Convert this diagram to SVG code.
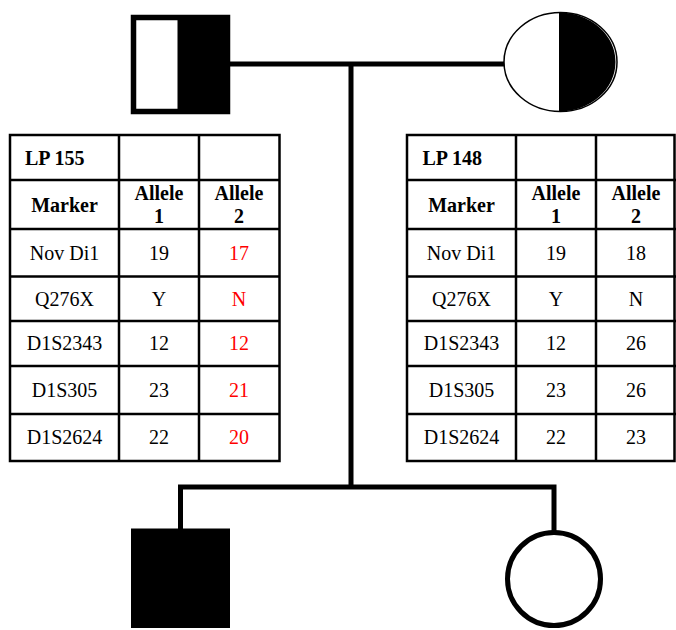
<svg xmlns="http://www.w3.org/2000/svg" width="676" height="630" viewBox="0 0 676 630">
<style>
.ln{stroke:#000;stroke-width:5;fill:none}
.tb{stroke:#000;stroke-width:2.5;fill:none}
.t text{font-family:'Liberation Serif','Times New Roman',Times,'DejaVu Serif',serif;font-size:20px;fill:#000;text-anchor:middle}
.t .b{font-weight:bold}
.t .l{text-anchor:start}
.t .r{fill:#ff0000}
</style>
<rect width="676" height="630" fill="#fff"/>
<g id="connectors">
<line class="ln" x1="230" y1="64" x2="505" y2="64"/>
<line class="ln" x1="351" y1="64" x2="351" y2="487"/>
<polyline class="ln" points="180.5,529 180.5,487 554,487 554,532"/>
</g>
<g id="father">
<rect x="133.5" y="17.5" width="94" height="94" fill="#fff" stroke="#000" stroke-width="5.5"/>
<rect x="177.5" y="15" width="52.5" height="99" fill="#000"/>
</g>
<g id="mother">
<ellipse cx="560.5" cy="62" rx="56.5" ry="49.5" fill="#fff" stroke="#000" stroke-width="1.5"/>
<path d="M559,12.5 A56.5,49.5 0 0 1 559,111.5 Z" fill="#000"/>
</g>
<g id="son">
<rect x="131" y="528.5" width="99" height="99.5" fill="#000"/>
</g>
<g id="daughter">
<circle cx="554" cy="579" r="46.5" fill="#fff" stroke="#000" stroke-width="5"/>
</g>
<g id="table-lp155" class="t" font-family="Liberation Serif, serif">
<rect x="10" y="135" width="269.5" height="326" fill="#fff"/>
<g class="tb">
<rect x="10" y="135" width="269.5" height="326"/>
<line x1="119" y1="135" x2="119" y2="461"/>
<line x1="199" y1="135" x2="199" y2="461"/>
<line x1="10" y1="180" x2="279.5" y2="180"/>
<line x1="10" y1="229" x2="279.5" y2="229"/>
<line x1="10" y1="276.5" x2="279.5" y2="276.5"/>
<line x1="10" y1="321" x2="279.5" y2="321"/>
<line x1="10" y1="366" x2="279.5" y2="366"/>
<line x1="10" y1="414" x2="279.5" y2="414"/>
</g>
<text class="b l" x="25" y="165">LP 155</text>
<text class="b" x="64.5" y="212">Marker</text>
<text class="b" x="159" y="200">Allele</text>
<text class="b" x="159" y="223">1</text>
<text class="b" x="239" y="200">Allele</text>
<text class="b" x="239" y="223">2</text>
<text x="64.5" y="260">Nov Di1</text>
<text x="159" y="260">19</text>
<text class="r" x="239" y="260">17</text>
<text x="64.5" y="306">Q276X</text>
<text x="159" y="306">Y</text>
<text class="r" x="239" y="306">N</text>
<text x="64.5" y="350">D1S2343</text>
<text x="159" y="350">12</text>
<text class="r" x="239" y="350">12</text>
<text x="64.5" y="397">D1S305</text>
<text x="159" y="397">23</text>
<text class="r" x="239" y="397">21</text>
<text x="64.5" y="444">D1S2624</text>
<text x="159" y="444">22</text>
<text class="r" x="239" y="444">20</text>
</g>
<g id="table-lp148" class="t" font-family="Liberation Serif, serif">
<rect x="407" y="135" width="268" height="326" fill="#fff"/>
<g class="tb">
<rect x="407" y="135" width="267.5" height="326"/>
<line x1="516" y1="135" x2="516" y2="461"/>
<line x1="596" y1="135" x2="596" y2="461"/>
<line x1="407" y1="180" x2="676" y2="180"/>
<line x1="407" y1="229" x2="676" y2="229"/>
<line x1="407" y1="276.5" x2="676" y2="276.5"/>
<line x1="407" y1="321" x2="676" y2="321"/>
<line x1="407" y1="366" x2="676" y2="366"/>
<line x1="407" y1="414" x2="676" y2="414"/>
</g>
<text class="b l" x="422.5" y="165">LP 148</text>
<text class="b" x="461.5" y="212">Marker</text>
<text class="b" x="556" y="200">Allele</text>
<text class="b" x="556" y="223">1</text>
<text class="b" x="636" y="200">Allele</text>
<text class="b" x="636" y="223">2</text>
<text x="461.5" y="260">Nov Di1</text>
<text x="556" y="260">19</text>
<text x="636" y="260">18</text>
<text x="461.5" y="306">Q276X</text>
<text x="556" y="306">Y</text>
<text x="636" y="306">N</text>
<text x="461.5" y="350">D1S2343</text>
<text x="556" y="350">12</text>
<text x="636" y="350">26</text>
<text x="461.5" y="397">D1S305</text>
<text x="556" y="397">23</text>
<text x="636" y="397">26</text>
<text x="461.5" y="444">D1S2624</text>
<text x="556" y="444">22</text>
<text x="636" y="444">23</text>
</g>
</svg>
